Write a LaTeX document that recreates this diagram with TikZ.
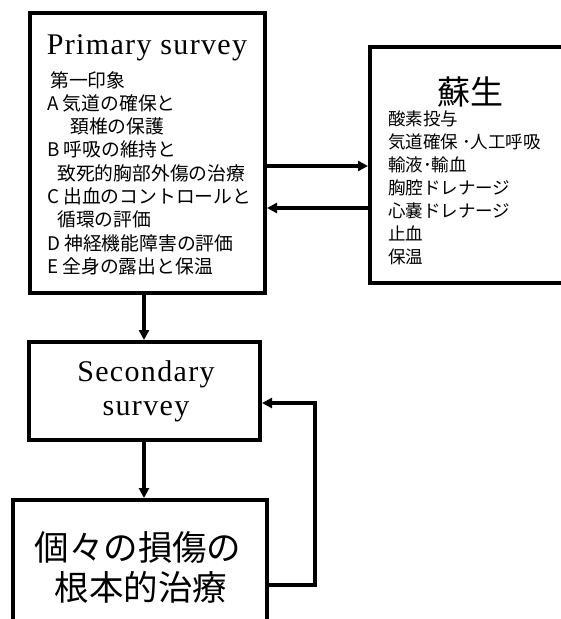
\documentclass[tikz,border=0pt]{standalone}
\usepackage{fontspec}
\usetikzlibrary{arrows.meta}
\newfontfamily\jpfont{Noto Sans CJK JP}
\newfontfamily\enfont[LetterSpace=4.5]{Liberation Serif}
\tikzset{
  box/.style={draw, line width=4pt, minimum width=#1},
  item/.style={anchor=base west, inner sep=0pt, font=\jpfont\fontsize{18.8}{20}\selectfont},
  ritem/.style={item, font=\jpfont\fontsize{17.5}{20}\selectfont},
  title/.style={anchor=base, inner sep=0pt, font=\enfont\fontsize{30}{32}\selectfont},
  link/.style={->, line width=4pt},
  >={Triangle[length=10pt,width=10pt]}
}

\begin{document}
\begin{tikzpicture}[x=1pt,y=-1pt]
            \useasboundingbox (0,0) rectangle (561,619);
            % boxes
            \node[box=235pt, minimum height=280pt] (primary)   at (147.5,153) {};
            \node[box=230pt, minimum height=236pt] (resus)     at (485,165) {};
            \node[box=231pt, minimum height=98pt]  (secondary) at (144.5,391) {};
            \node[box=254pt, minimum height=150pt] (final)     at (140,575) {};

            % primary survey
            \node[title] (ptitle) at (147,54) {Primary survey};
            \node[item] (p0) at (50,87)    {第一印象};
            \node[item] (pa) at (47,110.3) {A 気道の確保と};
            \node[item] (pa2) at (70,133.6) {頚椎の保護};
            \node[item] (pb) at (47,156.9) {B 呼吸の維持と};
            \node[item] (pb2) at (57,180.2) {致死的胸部外傷の治療};
            \node[item] (pc) at (47,203.5) {C 出血のコントロールと};
            \node[item] (pc2) at (57,226.8) {循環の評価};
            \node[item] (pd) at (47,250.1) {D 神経機能障害の評価};
            \node[item] (pe) at (47,273.4) {E 全身の露出と保温};

            % resuscitation
            \node[anchor=base, font=\jpfont\fontsize{33}{36}\selectfont] (rtitle) at (470,104.5) {蘇生};
            \node[ritem] (r1) at (388,125) {酸素投与};
            \node[ritem] (r2) at (388,148) {気道確保 ･人工呼吸};
            \node[ritem] (r3) at (388,171) {輸液･輸血};
            \node[ritem] (r4) at (388,194) {胸腔ドレナージ};
            \node[ritem] (r5) at (388,217) {心嚢ドレナージ};
            \node[ritem] (r6) at (388,240) {止血};
            \node[ritem] (r7) at (388,263) {保温};

            % secondary survey
            \node[title] (stitle) at (146,381) {Secondary};
            \node[title] (stitle2) at (146,415) {survey};

            % definitive care
            \node[anchor=base, font=\jpfont\fontsize{34.5}{38}\selectfont] (f1) at (138,560) {個々の損傷の};
            \node[anchor=base, font=\jpfont\fontsize{34.5}{38}\selectfont] (f2) at (141,600) {根本的治療};

            % connectors
            \coordinate (hi)   at (0,166);
            \coordinate (lo)   at (0,208);
            \coordinate (colx) at (144,0);
            \coordinate (back) at (315,585);
            \coordinate (up)   at (315,403);

            \draw[link] (primary.east |- hi) -- (resus.west |- hi);
            \draw[link] (resus.west |- lo) -- (primary.east |- lo);
            \draw[link] (primary.south -| colx) -- (secondary.north -| colx);
            \draw[link] (secondary.south -| colx) -- (final.north -| colx);
            \draw[link] (final.east |- back) -- (back) -- (up) -- (secondary.east |- up);
        \end{tikzpicture}
\end{document}
